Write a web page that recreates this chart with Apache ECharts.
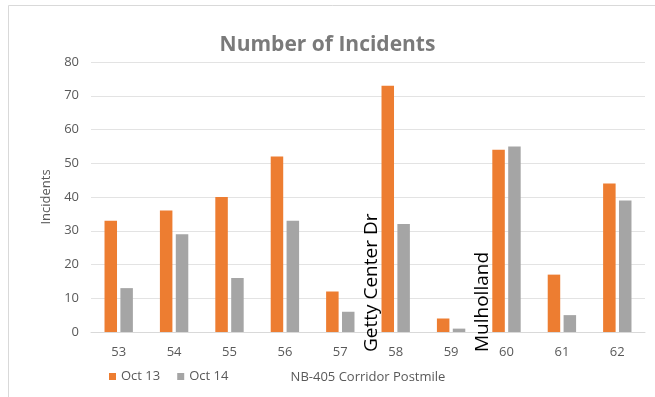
<!DOCTYPE html>
<html>
<head>
<meta charset="utf-8">
<script src="https://cdn.jsdelivr.net/npm/echarts@6/dist/echarts.min.js"></script>
<style>
  html, body { margin: 0; padding: 0; background: #fff; }
  #chart { width: 655px; height: 397px; }
</style>
</head>
<body>
<div id="chart"></div>
<script>
// NB-405 corridor postmiles
const postmiles = ['53', '54', '55', '56', '57', '58', '59', '60', '61', '62'];
// incidents per postmile on each day
const oct13 = [33, 36, 40, 52, 12, 73, 4, 54, 17, 44];
const oct14 = [13, 29, 16, 33, 6, 32, 1, 55, 5, 39];
// landmarks noted beside a postmile
const landmarks = [
  { name: 'Getty Center Dr', at: '58' },
  { name: 'Mulholland', at: '60' }
];

const FONT = '"Open Sans", "Noto Sans", sans-serif';
const chart = echarts.init(document.getElementById('chart'), null, { renderer: 'canvas' });

const option = {
  backgroundColor: '#fff',
  animation: false,
  title: {
    text: 'Number of Incidents',
    left: 'center',
    top: 30,
    textStyle: { fontFamily: FONT, fontSize: 21, fontWeight: 'bold', color: '#7a7a7a' }
  },
  legend: {
    left: 104,
    top: 365,
    itemWidth: 7,
    itemHeight: 7,
    itemGap: 17,
    icon: 'rect',
    textStyle: { fontFamily: FONT, fontSize: 13, color: '#595959' },
    data: ['Oct 13', 'Oct 14']
  },
  grid: { left: 91, right: 10, top: 62, bottom: 65 },
  xAxis: {
    type: 'category',
    data: postmiles,
    name: 'NB-405 Corridor Postmile',
    nameLocation: 'middle',
    nameGap: 39,
    nameTextStyle: { fontFamily: FONT, fontSize: 13, color: '#595959' },
    axisLine: { lineStyle: { color: '#d9d9d9' } },
    axisTick: { show: false },
    axisLabel: { fontFamily: FONT, fontSize: 13, color: '#595959', margin: 14 }
  },
  yAxis: {
    type: 'value',
    min: 0,
    max: 80,
    interval: 10,
    name: 'Incidents',
    nameLocation: 'middle',
    nameGap: 38,
    nameTextStyle: { fontFamily: FONT, fontSize: 13, color: '#595959' },
    axisLine: { show: false },
    axisTick: { show: false },
    axisLabel: { fontFamily: FONT, fontSize: 13, color: '#595959', margin: 12 },
    splitLine: { lineStyle: { color: '#e3e3e3' } }
  },
  series: [
    {
      name: 'Oct 13',
      type: 'bar',
      data: oct13,
      barWidth: 12.5,
      barGap: '27%',
      itemStyle: { color: '#ED7D31' }
    },
    {
      name: 'Oct 14',
      type: 'bar',
      data: oct14,
      barWidth: 12.5,
      itemStyle: { color: '#A5A5A5' }
    }
  ]
};
chart.setOption(option);

// place landmark notes to the left of their postmile, standing upright
const step = chart.convertToPixel({ xAxisIndex: 0 }, postmiles[1]) - chart.convertToPixel({ xAxisIndex: 0 }, postmiles[0]);
const baseY = chart.convertToPixel({ yAxisIndex: 0 }, 0);
const notes = landmarks.map(function (lm) {
  const cx = chart.convertToPixel({ xAxisIndex: 0 }, lm.at);
  return {
    type: 'text',
    x: cx - step * 0.44,
    y: baseY + 20,
    rotation: Math.PI / 2,
    style: {
      text: lm.name,
      fontFamily: FONT,
      fontSize: 19,
      fill: '#000',
      textAlign: 'left',
      textVerticalAlign: 'middle'
    },
    z: 10
  };
});

chart.setOption({
  graphic: [
    {
      type: 'rect',
      shape: { x: 8.5, y: 5.5, width: 700, height: 450 },
      style: { fill: 'none', stroke: '#d9d9d9', lineWidth: 1 },
      silent: true
    }
  ].concat(notes)
});
</script>
</body>
</html>
